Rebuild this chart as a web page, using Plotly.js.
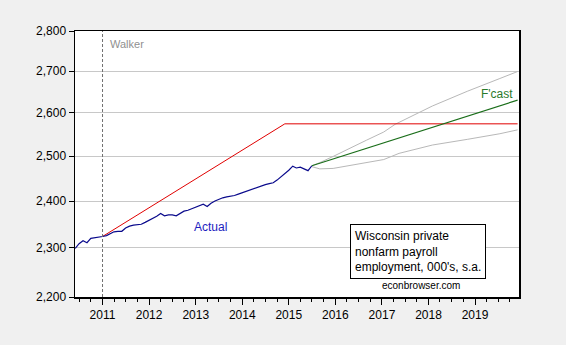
<!DOCTYPE html>
<html>
<head>
<meta charset="utf-8">
<script src="https://cdn.plot.ly/plotly-3.0.1.min.js"></script>
<style>html,body{margin:0;padding:0;background:#f0f0f0;}#chart{width:566px;height:345px;}</style>
</head>
<body>
<div id="chart"></div>
<script>
// Actual: Wisconsin private nonfarm payroll employment, monthly Jun 2010 - Jul 2015 (000's)
const actualStart = [2010, 6];
const actualValues = [
  2299, 2309, 2315, 2311, 2320, 2321, 2322,
  2324, 2326, 2330, 2334, 2335, 2335, 2342, 2346, 2348, 2349, 2350, 2354,
  2358, 2363, 2367, 2373, 2368, 2370, 2370, 2368, 2373, 2378, 2380, 2383,
  2386, 2390, 2393, 2388, 2395, 2400, 2404, 2407, 2409, 2410, 2412, 2415,
  2418, 2422, 2425, 2428, 2431, 2434, 2436, 2438, 2440, 2446, 2453, 2461,
  2468, 2477, 2473, 2475, 2471, 2467, 2478
];
// Walker promise path (250k jobs by end of 2014)
const promiseDates = ['2011-01-01', '2014-12-01', '2019-12-01'];
const promiseValues = [2324, 2574, 2574];
// Forecast
const fcastDates = ['2015-07-01', '2019-12-01'];
const fcastValues = [2478, 2630];
// Forecast band
const upperDates = ['2015-07-01', '2015-09-01', '2015-12-15', '2016-04-15', '2016-09-01', '2017-01-15', '2017-04-15', '2018-02-01', '2018-11-01', '2019-07-15', '2019-12-01'];
const upperValues = [2478, 2485, 2499, 2517, 2536, 2555, 2573, 2616, 2651, 2682, 2699];
const lowerDates = ['2015-07-01', '2015-09-01', '2015-12-15', '2016-04-15', '2016-09-01', '2017-01-15', '2017-05-15', '2018-02-01', '2018-11-01', '2019-07-15', '2019-12-01'];
const lowerValues = [2476, 2471, 2472, 2478, 2484, 2492, 2506, 2525, 2538, 2551, 2560];
const walkerDate = '2011-01-01';
const yTicks = [2200, 2300, 2400, 2500, 2600, 2700, 2800];
const yTickText = ['2,200', '2,300', '2,400', '2,500', '2,600', '2,700', '2,800'];

function monthDates(start, n) {
  const out = [];
  let y = start[0], m = start[1];
  for (let i = 0; i < n; i++) {
    out.push(y + '-' + String(m).padStart(2, '0') + '-01');
    m++; if (m > 12) { m = 1; y++; }
  }
  return out;
}
const actualDates = monthDates(actualStart, actualValues.length);

const FONT = 'Liberation Sans, Arial, sans-serif';
const traces = [
  {x: upperDates, y: upperValues, mode: 'lines', line: {color: '#b8b8b8', width: 1}, hoverinfo: 'skip'},
  {x: lowerDates, y: lowerValues, mode: 'lines', line: {color: '#b8b8b8', width: 1}, hoverinfo: 'skip'},
  {x: promiseDates, y: promiseValues, mode: 'lines', line: {color: '#e00000', width: 1}},
  {x: fcastDates, y: fcastValues, mode: 'lines', line: {color: '#1a6e1a', width: 1.2}},
  {x: actualDates, y: actualValues, mode: 'lines', line: {color: '#0a0a8c', width: 1.2}}
];

const layout = {
  width: 566, height: 345,
  paper_bgcolor: '#f0f0f0', plot_bgcolor: '#ffffff',
  margin: {l: 75, r: 46.5, t: 31, b: 47.5},
  showlegend: false,
  font: {family: FONT, size: 12, color: '#000'},
  xaxis: {
    type: 'date', range: ['2010-05-30', '2019-12-12'],
    tickmode: 'linear', tick0: '2011-01-01', dtick: 'M12', tickformat: '%Y',
    ticks: 'outside', ticklen: 6, tickwidth: 1, tickcolor: '#000',
    minor: {dtick: 'M3', tick0: '2011-01-01', ticks: 'outside', ticklen: 3, tickcolor: '#000', showgrid: false},
    showgrid: false, zeroline: false,
    showline: true, mirror: true, linecolor: '#000', linewidth: 1.5,
    tickfont: {family: FONT, size: 12, color: '#000'}
  },
  yaxis: {
    type: 'log', range: [Math.log10(2200), Math.log10(2800)],
    tickmode: 'array', tickvals: yTicks, ticktext: yTickText,
    ticks: 'outside', ticklen: 5, tickwidth: 1, tickcolor: '#000',
    showgrid: true, gridcolor: '#c8c8c8', gridwidth: 1, zeroline: false,
    showline: true, mirror: true, linecolor: '#000', linewidth: 1.5,
    tickfont: {family: FONT, size: 12, color: '#000'}
  },
  shapes: [
    {type: 'line', xref: 'x', yref: 'paper', x0: walkerDate, x1: walkerDate, y0: 0, y1: 1,
     line: {color: '#707070', width: 1, dash: '3px,2px'}}
  ],
  annotations: [
    {text: 'Walker', xref: 'paper', yref: 'paper', x: 0.074, y: 0.951, xanchor: 'left', yanchor: 'middle',
     showarrow: false, font: {family: FONT, size: 11, color: '#909090'}},
    {text: 'Actual', xref: 'paper', yref: 'paper', x: 0.2625, y: 0.262, xanchor: 'left', yanchor: 'middle',
     showarrow: false, font: {family: FONT, size: 12, color: '#1c1cc0'}},
    {text: "F'cast", xref: 'paper', yref: 'paper', x: 0.911, y: 0.7625, xanchor: 'left', yanchor: 'middle',
     showarrow: false, font: {family: FONT, size: 12, color: '#2a7a2a'}},
    {text: 'Wisconsin private<br>nonfarm payroll<br>employment, 000\'s, s.a.', xref: 'paper', yref: 'paper',
     x: 0.620, y: 0.2747, xanchor: 'left', yanchor: 'top', align: 'left',
     showarrow: false, bgcolor: '#ffffff', bordercolor: '#000', borderwidth: 1, borderpad: 4,
     font: {family: FONT, size: 12, color: '#000'}},
    {text: 'econbrowser.com', xref: 'paper', yref: 'paper', x: 0.78, y: 0.043, xanchor: 'center', yanchor: 'middle',
     showarrow: false, font: {family: FONT, size: 10, color: '#000'}}
  ]
};

Plotly.newPlot('chart', traces, layout, {displayModeBar: false, staticPlot: true});
</script>
</body>
</html>
